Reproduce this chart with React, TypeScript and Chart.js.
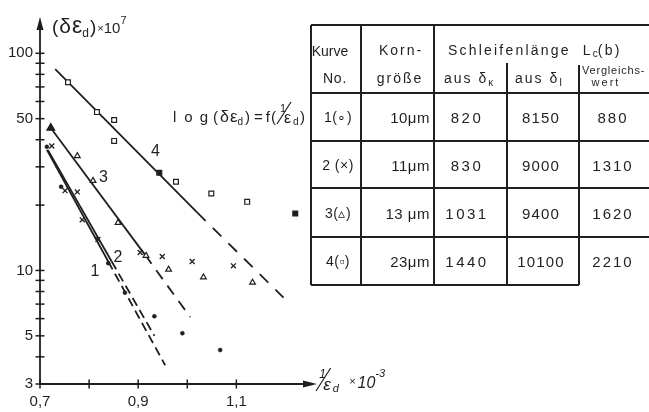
import React, { useEffect, useRef } from "react";
import { Chart, registerables } from "chart.js";

Chart.register(...registerables);

const INK = "#1f1f1f";
const FONT = '"Liberation Sans", Arial, sans-serif';

// ---- axis ticks ----
const xTickValues = [0.7, 0.8, 0.9, 1.0, 1.1];
const xTickLabels = ["0,7", "", "0,9", "", "1,1"];
const yTickValues = [3, 4, 5, 6, 7, 8, 9, 10, 20, 30, 40, 50, 60, 70, 80, 90, 100];
const yTickLabels = ["3", "", "5", "", "", "", "", "10", "", "", "", "50", "", "", "", "", "100"];

// ---- measured points ----
// Curve 1 (dots)
const curve1X = [0.714, 0.743, 0.839, 0.873, 0.933, 0.99, 1.067];
const curve1Y = [37.1, 24.3, 10.8, 7.9, 6.15, 5.14, 4.3];
// Curve 2 (crosses)
const curve2X = [0.724, 0.751, 0.776, 0.786, 0.818, 0.904, 0.949, 1.01, 1.094];
const curve2Y = [37.4, 23.3, 23.0, 17.1, 13.9, 12.1, 11.6, 11.0, 10.5];
// Curve 3 (triangles)
const curve3X = [0.722, 0.776, 0.808, 0.859, 0.916, 0.962, 1.033, 1.133];
const curve3Y = [45.3, 33.7, 25.9, 16.6, 11.7, 10.1, 9.3, 8.8];
const curve3Filled = [0];
// Curve 4 (squares)
const curve4X = [0.757, 0.816, 0.851, 0.851, 0.943, 0.977, 1.049, 1.122, 1.22];
const curve4Y = [73.6, 53.6, 49.3, 39.5, 28.2, 25.6, 22.6, 20.7, 18.3];
const curve4Filled = [4, 8];

// ---- fitted lines: start, end of solid part, end of dashed part ----
const line1X = [0.714, 0.839, 0.955];
const line1Y = [35.9, 11.0, 3.66];
const line2X = [0.716, 0.846, 0.933];
const line2Y = [35.9, 11.0, 5.0];
const line3X = [0.722, 0.914, 1.006];
const line3Y = [45.3, 11.8, 6.1];
const line4X = [0.731, 1.02, 1.196];
const line4Y = [84.5, 18.5, 7.5];

// ---- curve labels (anchored in data space) ----
const curveLabelText = ["1", "2", "3", "4"];
const curveLabelX = [0.812, 0.859, 0.829, 0.935];
const curveLabelY = [9.9, 11.5, 26.7, 35.1];

// ---- table ----
const tableCurveLabels = ["1(∘)", "2 (×)", "3(▵)", "4(▫)"];
const tableGrainSizes = ["10μm", "11μm", "13 μm", "23μm"];
const tableFromDeltaK = ["820", "830", "1031", "1440"];
const tableFromDeltaI = ["8150", "9000", "9400", "10100"];
const tableCompare = ["880", "1310", "1620", "2210"];

const pts = (xs: number[], ys: number[]) => xs.map((x, i) => ({ x, y: ys[i] }));

type Piece = { t: string; size: number; dy?: number; gap?: number; italic?: boolean };
function drawRun(ctx: CanvasRenderingContext2D, x: number, y: number, pieces: Piece[]) {
  let cx = x;
  ctx.textAlign = "left";
  ctx.textBaseline = "alphabetic";
  for (const p of pieces) {
    ctx.font = `${p.italic ? "italic " : ""}${p.size}px ${FONT}`;
    ctx.fillText(p.t, cx, y + (p.dy || 0));
    cx += ctx.measureText(p.t).width + (p.gap || 0);
  }
  return cx;
}

// "1/ε_d" fraction: x = left of slash bottom, y = baseline of ε
function drawFrac(ctx: CanvasRenderingContext2D, x: number, y: number, italic: boolean, scale: number) {
  const it = italic ? "italic " : "";
  ctx.textAlign = "left";
  ctx.textBaseline = "alphabetic";
  ctx.font = `${it}${Math.round(11 * scale)}px ${FONT}`;
  ctx.fillText("1", x + 3 * scale, y - 11 * scale);
  ctx.lineWidth = 1.2;
  ctx.beginPath();
  ctx.moveTo(x, y + 1);
  ctx.lineTo(x + 14 * scale, y - 21 * scale);
  ctx.stroke();
  ctx.font = `${it}${Math.round(16 * scale)}px ${FONT}`;
  ctx.fillText("ε", x + 7 * scale, y);
  ctx.font = `${it}${Math.round(10 * scale)}px ${FONT}`;
  ctx.fillText("d", x + 16 * scale, y + 2);
  return x + 23 * scale;
}

const sketchPlugin = {
  id: "sketchAxes",
  afterDraw(chart: any) {
    const { ctx, chartArea: a, scales } = chart;
    const xs = scales.x;
    const ys = scales.y;
    ctx.save();
    ctx.strokeStyle = INK;
    ctx.fillStyle = INK;
    ctx.lineWidth = 1.8;
    // y axis + arrow
    ctx.beginPath();
    ctx.moveTo(a.left, a.bottom + 1);
    ctx.lineTo(a.left, a.top);
    ctx.stroke();
    ctx.beginPath();
    ctx.moveTo(a.left, a.top - 8);
    ctx.lineTo(a.left - 3.5, a.top + 5);
    ctx.lineTo(a.left + 3.5, a.top + 5);
    ctx.closePath();
    ctx.fill();
    // x axis + arrow
    ctx.beginPath();
    ctx.moveTo(a.left - 1, a.bottom);
    ctx.lineTo(a.right, a.bottom);
    ctx.stroke();
    ctx.beginPath();
    ctx.moveTo(a.right + 7, a.bottom);
    ctx.lineTo(a.right - 7, a.bottom - 3.5);
    ctx.lineTo(a.right - 7, a.bottom + 3.5);
    ctx.closePath();
    ctx.fill();
    // ticks crossing the axes
    ctx.lineWidth = 1.5;
    yTickValues.forEach((v) => {
      const p = ys.getPixelForValue(v);
      ctx.beginPath();
      ctx.moveTo(a.left - 4.5, p);
      ctx.lineTo(a.left + 4.5, p);
      ctx.stroke();
    });
    xTickValues.forEach((v) => {
      const p = xs.getPixelForValue(v);
      ctx.beginPath();
      ctx.moveTo(p, a.bottom - 4.5);
      ctx.lineTo(p, a.bottom + 4.5);
      ctx.stroke();
    });

    // y axis title (δε_d)×10^7
    drawRun(ctx, a.left + 12, a.top + 8, [
      { t: "(", size: 19, gap: 1 },
      { t: "δ", size: 21, gap: 1 },
      { t: "ε", size: 23, gap: 0 },
      { t: "d", size: 12, dy: 4, gap: 1 },
      { t: ")", size: 19, gap: 1 },
      { t: "×", size: 11, dy: -1, gap: 0 },
      { t: "10", size: 15, gap: 0 },
      { t: "7", size: 11, dy: -9 },
    ]);

    // formula log(δε_d) = f(1/ε_d)
    const fx = drawRun(ctx, a.left + 133, a.top + 97, [
      { t: "l", size: 15, gap: 8 },
      { t: "o", size: 15, gap: 7 },
      { t: "g", size: 15, gap: 5 },
      { t: "(", size: 15, gap: 2 },
      { t: "δ", size: 16, gap: 1 },
      { t: "ε", size: 17, gap: 0 },
      { t: "d", size: 10, dy: 3, gap: 2 },
      { t: ")", size: 15, gap: 4 },
      { t: "=", size: 15, gap: 3 },
      { t: "f", size: 15, gap: 1 },
      { t: "(", size: 15, gap: 0 },
    ]);
    const fx2 = drawFrac(ctx, fx + 1, a.top + 98, false, 1);
    drawRun(ctx, fx2, a.top + 97, [{ t: ")", size: 15 }]);

    // x axis title 1/ε_d ×10^-3
    const tx = drawFrac(ctx, a.right + 6, a.bottom + 6, true, 1.05);
    drawRun(ctx, tx + 9, a.bottom + 4, [
      { t: "×", size: 11, dy: -3, gap: 2 },
      { t: "10", size: 16, italic: true, gap: 0 },
      { t: "-3", size: 11, dy: -11, italic: true },
    ]);

    // curve labels
    ctx.font = `16px ${FONT}`;
    ctx.textAlign = "center";
    ctx.textBaseline = "middle";
    curveLabelText.forEach((t, i) => {
      ctx.fillText(t, xs.getPixelForValue(curveLabelX[i]), ys.getPixelForValue(curveLabelY[i]));
    });
    ctx.restore();
  },
};

function lineSet(xs: number[], ys: number[], dash: number[]) {
  return [
    {
      data: pts(xs.slice(0, 2), ys.slice(0, 2)),
      showLine: true,
      borderColor: INK,
      borderWidth: 1.8,
      pointRadius: 0,
      order: 5,
    },
    {
      data: pts(xs.slice(1), ys.slice(1)),
      showLine: true,
      borderColor: INK,
      borderWidth: 1.8,
      borderDash: dash,
      pointRadius: 0,
      order: 5,
    },
  ];
}

function ChartView() {
  const ref = useRef<HTMLCanvasElement | null>(null);
  useEffect(() => {
    if (!ref.current) return;
    const fillFor = (filled: number[]) => (c: any) => (filled.includes(c.dataIndex) ? INK : "#ffffff");
    const chart = new Chart(ref.current, {
      type: "scatter",
      data: {
        datasets: [
          ...lineSet(line1X, line1Y, [9, 5]),
          ...lineSet(line2X, line2Y, [9, 5]),
          ...lineSet(line3X, line3Y, [11, 8]),
          ...lineSet(line4X, line4Y, [12, 10]),
          {
            data: pts(curve1X, curve1Y),
            pointStyle: "circle",
            pointRadius: 2,
            pointBackgroundColor: INK,
            pointBorderColor: INK,
            pointBorderWidth: 0.5,
            order: 1,
          },
          {
            data: pts(curve2X, curve2Y),
            pointStyle: "crossRot",
            pointRadius: 3.5,
            pointBorderColor: INK,
            pointBorderWidth: 1.3,
            order: 1,
          },
          {
            data: pts(curve3X, curve3Y),
            pointStyle: "triangle",
            pointRadius: (c: any) => (curve3Filled.includes(c.dataIndex) ? 4.5 : 3.3),
            pointBackgroundColor: fillFor(curve3Filled),
            pointBorderColor: INK,
            pointBorderWidth: 1.2,
            order: 1,
          },
          {
            data: pts(curve4X, curve4Y),
            pointStyle: "rect",
            pointRadius: 3.4,
            pointBackgroundColor: fillFor(curve4Filled),
            pointBorderColor: INK,
            pointBorderWidth: 1.2,
            order: 1,
          },
        ],
      },
      options: {
        animation: false,
        responsive: false,
        maintainAspectRatio: false,
        devicePixelRatio: 1,
        layout: { padding: { left: 0, right: 339, top: 25, bottom: 0 } },
        plugins: { legend: { display: false }, tooltip: { enabled: false } },
        scales: {
          x: {
            type: "linear",
            min: 0.7,
            max: 1.25,
            grid: { display: false, drawTicks: false },
            border: { display: false },
            afterBuildTicks: (s: any) => {
              s.ticks = xTickValues.map((v) => ({ value: v }));
            },
            afterFit: (s: any) => {
              s.height = 28;
            },
            ticks: {
              autoSkip: false,
              maxRotation: 0,
              padding: 9,
              color: INK,
              font: { family: FONT, size: 15 },
              callback: (_v: any, i: number) => xTickLabels[i],
            },
          },
          y: {
            type: "logarithmic",
            min: 3,
            max: 135,
            grid: { display: false, drawTicks: false },
            border: { display: false },
            afterBuildTicks: (s: any) => {
              s.ticks = yTickValues.map((v) => ({ value: v }));
            },
            afterFit: (s: any) => {
              s.width = 40;
            },
            ticks: {
              autoSkip: false,
              padding: 7,
              color: INK,
              font: { family: FONT, size: 15 },
              callback: (_v: any, i: number) => yTickLabels[i],
            },
          },
        },
      } as any,
      plugins: [sketchPlugin],
    });
    return () => chart.destroy();
  }, []);
  return (
    <canvas
      ref={ref}
      width={649}
      height={412}
      style={{ position: "absolute", left: 0, top: 0, width: 649, height: 412 }}
    />
  );
}

const T_COLS = [311, 361, 434, 507, 579, 649];
const T_ROWS = [25, 93, 141, 188, 237, 285];
const T_SUB = 65;

function HLine({ y, x1, x2 }: { y: number; x1: number; x2: number }) {
  return (
    <div style={{ position: "absolute", left: x1, top: y - 0.7, width: x2 - x1, height: 1.4, background: INK }} />
  );
}
function VLine({ x, y1, y2 }: { x: number; y1: number; y2: number }) {
  return (
    <div style={{ position: "absolute", left: x - 0.7, top: y1, width: 1.4, height: y2 - y1, background: INK }} />
  );
}

function Cell({
  x,
  y,
  align,
  size,
  spacing,
  children,
}: {
  x: number;
  y: number;
  align: "center" | "right" | "left";
  size: number;
  spacing: number;
  children: React.ReactNode;
}) {
  const tx = align === "center" ? "-50%" : align === "right" ? "-100%" : "0";
  return (
    <div
      style={{
        position: "absolute",
        left: x,
        top: y,
        transform: `translate(${tx}, -50%)`,
        fontFamily: FONT,
        fontSize: size,
        letterSpacing: spacing,
        color: INK,
        whiteSpace: "nowrap",
        lineHeight: 1,
      }}
    >
      {children}
    </div>
  );
}

const subStyle: React.CSSProperties = { fontSize: 10, letterSpacing: 0, position: "relative", top: 3 };

function DataTable() {
  const rowMid = (i: number) => (T_ROWS[i + 1] + T_ROWS[i + 2]) / 2;
  return (
    <>
      <HLine y={T_ROWS[0]} x1={T_COLS[0]} x2={T_COLS[5]} />
      <HLine y={T_ROWS[1]} x1={T_COLS[0]} x2={T_COLS[5]} />
      <HLine y={T_ROWS[2]} x1={T_COLS[0]} x2={T_COLS[5]} />
      <HLine y={T_ROWS[3]} x1={T_COLS[0]} x2={T_COLS[5]} />
      <HLine y={T_ROWS[4]} x1={T_COLS[0]} x2={T_COLS[5]} />
      <HLine y={T_ROWS[5]} x1={T_COLS[0]} x2={T_COLS[4]} />
      <VLine x={T_COLS[0]} y1={T_ROWS[0]} y2={T_ROWS[5]} />
      <VLine x={T_COLS[1]} y1={T_ROWS[0]} y2={T_ROWS[5]} />
      <VLine x={T_COLS[2]} y1={T_ROWS[0]} y2={T_ROWS[5]} />
      <VLine x={T_COLS[3]} y1={T_SUB - 2} y2={T_ROWS[5]} />
      <VLine x={T_COLS[4]} y1={T_SUB} y2={T_ROWS[5]} />

      <Cell x={330} y={51} align="center" size={14} spacing={0}>Kurve</Cell>
      <Cell x={335} y={78} align="center" size={14} spacing={0.8}>No.</Cell>
      <Cell x={401} y={50} align="center" size={14} spacing={2}>Korn-</Cell>
      <Cell x={400} y={78} align="center" size={14} spacing={2}>größe</Cell>
      <Cell x={448} y={50} align="left" size={14} spacing={2.2}>
        Schleifenlänge&nbsp;&nbsp;L<span style={{ fontSize: 10, letterSpacing: 0, position: "relative", top: 2 }}>c</span>(b)
      </Cell>
      <Cell x={444} y={78} align="left" size={14} spacing={2}>
        aus&nbsp;δ<span style={subStyle}>κ</span>
      </Cell>
      <Cell x={515} y={78} align="left" size={14} spacing={2}>
        aus&nbsp;δ<span style={subStyle}>I</span>
      </Cell>
      <Cell x={582} y={70} align="left" size={11} spacing={0.8}>Vergleichs-</Cell>
      <Cell x={606} y={82} align="center" size={11} spacing={2}>wert</Cell>

      {tableCurveLabels.map((t, i) => (
        <Cell key={"a" + i} x={338} y={rowMid(i)} align="center" size={14} spacing={0.5}>{t}</Cell>
      ))}
      {tableGrainSizes.map((t, i) => (
        <Cell key={"b" + i} x={430} y={rowMid(i)} align="right" size={15} spacing={0.5}>{t}</Cell>
      ))}
      {tableFromDeltaK.map((t, i) => (
        <Cell key={"c" + i} x={467} y={rowMid(i)} align="center" size={15} spacing={2.5}>{t}</Cell>
      ))}
      {tableFromDeltaI.map((t, i) => (
        <Cell key={"d" + i} x={541} y={rowMid(i)} align="center" size={15} spacing={1.2}>{t}</Cell>
      ))}
      {tableCompare.map((t, i) => (
        <Cell key={"e" + i} x={613} y={rowMid(i)} align="center" size={15} spacing={2}>{t}</Cell>
      ))}
    </>
  );
}

export default function App() {
  return (
    <div
      style={{
        position: "absolute",
        left: 0,
        top: 0,
        width: 649,
        height: 412,
        background: "#ffffff",
        overflow: "hidden",
      }}
    >
      <ChartView />
      <DataTable />
    </div>
  );
}
